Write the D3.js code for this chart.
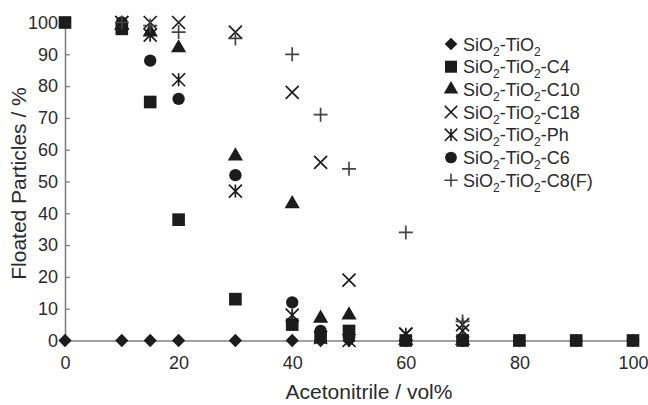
<!DOCTYPE html>
<html>
<head>
<meta charset="utf-8">
<script src="https://cdn.jsdelivr.net/npm/d3@7"></script>
<style>
  body { margin: 0; background: #fff; }
  text { font-family: "Liberation Sans", Arial, sans-serif; }
</style>
</head>
<body>
<div id="chart"></div>
<script>
// acetonitrile vol% and floated particles %
var xTicks = [0, 20, 40, 60, 80, 100];
var yTicks = [0, 10, 20, 30, 40, 50, 60, 70, 80, 90, 100];

var xBare = [0, 10, 15, 20, 30, 40, 45, 50, 60, 70, 80, 90, 100];
var yBare = [0, 0, 0, 0, 0, 0, 0, 0, 0, 0, 0, 0, 0];

var xC4 = [0, 10, 15, 20, 30, 40, 45, 50, 60, 70, 80, 90, 100];
var yC4 = [100, 98, 75, 38, 13, 5, 1, 3, 0, 0, 0, 0, 0];

var xC10 = [10, 15, 20, 30, 40, 45, 50, 60, 70];
var yC10 = [99, 97, 92, 58, 43, 7, 8, 0, 0];

var xC18 = [10, 15, 20, 30, 40, 45, 50, 60, 70];
var yC18 = [100, 100, 100, 97, 78, 56, 19, 2, 3];

var xPh = [10, 15, 20, 30, 40, 45, 50, 60, 70];
var yPh = [100, 96, 82, 47, 8, 1, 0, 2, 5];

var xC6 = [10, 15, 20, 30, 40, 45, 50, 60, 70];
var yC6 = [100, 88, 76, 52, 12, 3, 1, 0, 0];

var xC8F = [10, 15, 20, 30, 40, 45, 50, 60, 70];
var yC8F = [100, 99, 97, 95, 90, 71, 54, 34, 6];

var seriesNames = ["SiO2-TiO2", "SiO2-TiO2-C4", "SiO2-TiO2-C10", "SiO2-TiO2-C18",
                   "SiO2-TiO2-Ph", "SiO2-TiO2-C6", "SiO2-TiO2-C8(F)"];
var seriesX = [xBare, xC4, xC10, xC18, xPh, xC6, xC8F];
var seriesY = [yBare, yC4, yC10, yC18, yPh, yC6, yC8F];
var shapes = ["diamond", "square", "triangle", "cross", "star", "circle", "plus"];

var W = 648, H = 405;
var ink = "#1c1c1c", axisGray = "#808080", textCol = "#2a2a2a";

var svg = d3.select("#chart").append("svg")
    .attr("width", W).attr("height", H);

var x = d3.scaleLinear().domain([0, 100]).range([65, 633]);
var y = d3.scaleLinear().domain([0, 100]).range([340.5, 22.5]);

// y axis, ticks point inward
var yAxis = svg.append("g")
    .attr("transform", "translate(" + x(0) + ",0)")
    .call(d3.axisLeft(y).tickValues(yTicks).tickSizeInner(-5).tickSizeOuter(0).tickPadding(7));
yAxis.select(".domain").attr("stroke", axisGray).attr("stroke-width", 1.6);
yAxis.selectAll(".tick line").attr("stroke", axisGray).attr("stroke-width", 1.3);
yAxis.selectAll("text").attr("fill", textCol).style("font-size", "18px")
    .style("font-family", "Liberation Sans, Arial, sans-serif");

// x axis
var xAxis = svg.append("g")
    .attr("transform", "translate(0," + y(0) + ")")
    .call(d3.axisBottom(x).tickValues(xTicks).tickSize(0).tickPadding(16));
xAxis.select(".domain").attr("stroke", axisGray).attr("stroke-width", 1.6);
xAxis.selectAll("text").attr("fill", textCol).style("font-size", "18px")
    .style("font-family", "Liberation Sans, Arial, sans-serif");

svg.append("text")
    .attr("x", 369).attr("y", 399)
    .attr("text-anchor", "middle")
    .attr("fill", textCol).style("font-size", "21px")
    .text("Acetonitrile / vol%");

svg.append("text")
    .attr("transform", "translate(26," + ((y(0) + y(100)) / 2 + 2) + ") rotate(-90)")
    .attr("text-anchor", "middle")
    .attr("fill", textCol).style("font-size", "21px")
    .text("Floated Particles / %");

function marker(g, shape) {
  if (shape === "diamond") {
    g.append("path").attr("d", d3.symbol(d3.symbolSquare, 88)()).attr("fill", ink)
      .attr("transform", "rotate(45)");
  } else if (shape === "square") {
    g.append("path").attr("d", d3.symbol(d3.symbolSquare, 160)()).attr("fill", ink);
  } else if (shape === "triangle") {
    g.append("path").attr("d", d3.symbol(d3.symbolTriangle, 100)()).attr("fill", ink);
  } else if (shape === "circle") {
    g.append("path").attr("d", d3.symbol(d3.symbolCircle, 120)()).attr("fill", ink);
  } else {
    var r = 6.5, p = "";
    if (shape === "cross" || shape === "star") p += "M" + (-r) + "," + (-r) + "L" + r + "," + r + "M" + r + "," + (-r) + "L" + (-r) + "," + r;
    if (shape === "star") p += "M0," + (-r) + "L0," + r;
    if (shape === "plus") p = "M" + (-7) + ",0L7,0M0,-7L0,7";
    g.append("path").attr("d", p).attr("fill", "none")
      .attr("stroke", shape === "plus" ? "#444" : ink).attr("stroke-width", 1.7);
  }
}

// points
seriesNames.forEach(function(name, i) {
  var pts = seriesX[i].map(function(v, j) { return {x: v, y: seriesY[i][j]}; });
  var gs = svg.append("g").attr("class", "series").selectAll("g")
    .data(pts).enter().append("g")
    .attr("transform", function(d) { return "translate(" + x(d.x) + "," + y(d.y) + ")"; });
  gs.each(function() { marker(d3.select(this), shapes[i]); });
});

// legend
var legend = svg.append("g").attr("transform", "translate(451,44)");
seriesNames.forEach(function(name, i) {
  var row = legend.append("g").attr("transform", "translate(0," + (i * 22.7) + ")");
  marker(row.append("g").attr("transform", "scale(0.95)"), shapes[i]);
  var t = row.append("text").attr("x", 12).attr("y", 6.5)
    .attr("fill", textCol).style("font-size", "18px");
  var parts = name.split("2");
  parts.forEach(function(part, k) {
    if (k > 0) {
      t.append("tspan").attr("dy", 5).style("font-size", "12px").text("2");
      t.append("tspan").attr("dy", -5).text(part);
    } else {
      t.append("tspan").text(part);
    }
  });
});
</script>
</body>
</html>
